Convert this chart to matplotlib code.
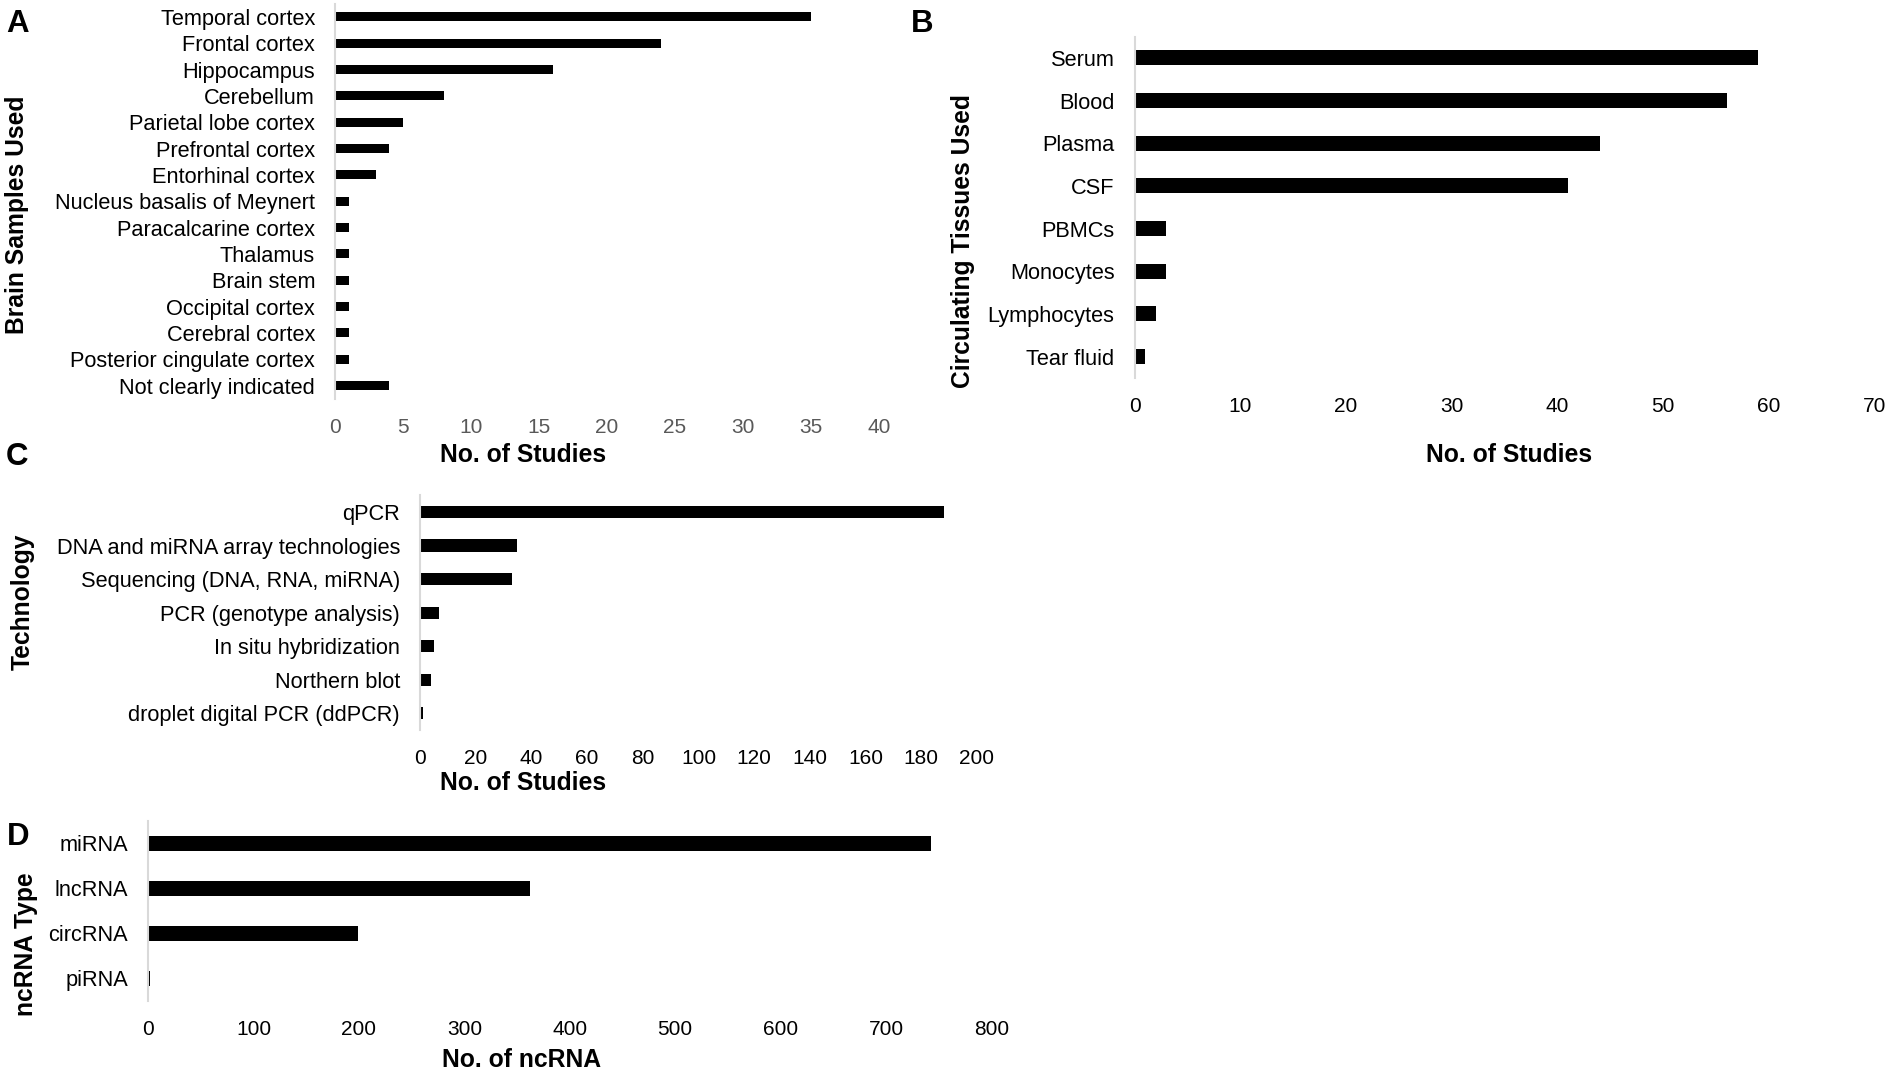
import matplotlib
matplotlib.use("Agg")
import matplotlib.pyplot as plt
import numpy as np

plt.rcParams['font.family'] = ['Liberation Sans', 'DejaVu Sans']

# ---- data ----
brain_labels = ["Temporal cortex", "Frontal cortex", "Hippocampus", "Cerebellum",
                "Parietal lobe cortex", "Prefrontal cortex", "Entorhinal cortex",
                "Nucleus basalis of Meynert", "Paracalcarine cortex", "Thalamus",
                "Brain stem", "Occipital cortex", "Cerebral cortex",
                "Posterior cingulate cortex", "Not clearly indicated"]
brain_values = [35, 24, 16, 8, 5, 4, 3, 1, 1, 1, 1, 1, 1, 1, 4]
brain_ticks = [0, 5, 10, 15, 20, 25, 30, 35, 40]

circ_labels = ["Serum", "Blood", "Plasma", "CSF", "PBMCs", "Monocytes",
               "Lymphocytes", "Tear fluid"]
circ_values = [59, 56, 44, 41, 3, 3, 2, 1]
circ_ticks = [0, 10, 20, 30, 40, 50, 60, 70]

tech_labels = ["qPCR", "DNA and miRNA array technologies",
               "Sequencing (DNA, RNA, miRNA)", "PCR (genotype analysis)",
               "In situ hybridization", "Northern blot",
               "droplet digital PCR (ddPCR)"]
tech_values = [188, 35, 33, 7, 5, 4, 1]
tech_ticks = [0, 20, 40, 60, 80, 100, 120, 140, 160, 180, 200]

nc_labels = ["miRNA", "lncRNA", "circRNA", "piRNA"]
nc_values = [743, 362, 199, 2]
nc_ticks = [0, 100, 200, 300, 400, 500, 600, 700, 800]

W, H = 1889, 1075
fig = plt.figure(figsize=(W / 100, H / 100), dpi=100)


def px_rect(x0, x1, ytop, ybot):
    return [x0 / W, 1 - ybot / H, (x1 - x0) / W, (ybot - ytop) / H]


def panel(rect, labels, values, ticks, tick_color, bar_h=0.35):
    ax = fig.add_axes(rect)
    n = len(labels)
    y = np.arange(n)
    ax.barh(y, values, height=bar_h, color='black')
    ax.set_ylim(n - 0.5, -0.5)
    ax.set_xlim(ticks[0], ticks[-1])
    ax.set_yticks(y)
    ax.set_yticklabels(labels, fontsize=15.7, color='black')
    ax.set_xticks(ticks)
    ax.set_xticklabels([str(t) for t in ticks], fontsize=15, color=tick_color)
    ax.tick_params(axis='y', length=0, pad=14.4)
    ax.tick_params(axis='x', length=0, pad=13.6)
    for s in ['top', 'right', 'bottom']:
        ax.spines[s].set_visible(False)
    ax.spines['left'].set_color('#d9d9d9')
    ax.spines['left'].set_linewidth(1.5)
    ax.set_facecolor('none')
    return ax


panel(px_rect(335, 879, 3.8, 398.7), brain_labels, brain_values, brain_ticks, '#595959', 0.34)
panel(px_rect(1134.5, 1874.5, 36.5, 378), circ_labels, circ_values, circ_ticks, 'black', 0.35)
panel(px_rect(420, 977, 495.2, 730), tech_labels, tech_values, tech_ticks, 'black', 0.36)
panel(px_rect(148, 991.5, 820.8, 1000.7), nc_labels, nc_values, nc_ticks, 'black', 0.33)


def ftext(x, y, s, **kw):
    fig.text(x / W, 1 - y / H, s, **kw)


# panel letters
for (x, y, s) in [(6, 32, "A"), (911, 32, "B"), (6, 465, "C"), (7, 845, "D")]:
    ftext(x, y, s, fontsize=22.5, fontweight='bold', ha='left', va='baseline')

# y axis titles
for (x, y, s) in [(17.5, 215, "Brain Samples Used"),
                  (963, 241, "Circulating Tissues Used"),
                  (23, 602, "Technology"),
                  (26, 944, "ncRNA Type")]:
    ftext(x, y, s, fontsize=17.7, fontweight='bold', rotation=90,
          ha='center', va='center')

# x axis titles
for (x, y, s) in [(523, 455, "No. of Studies"),
                  (1509, 455, "No. of Studies"),
                  (523, 783, "No. of Studies"),
                  (522, 1060, "No. of ncRNA")]:
    ftext(x, y, s, fontsize=17.8, fontweight='bold', ha='center', va='center')

fig.savefig("out.png", dpi=100, facecolor='white')
